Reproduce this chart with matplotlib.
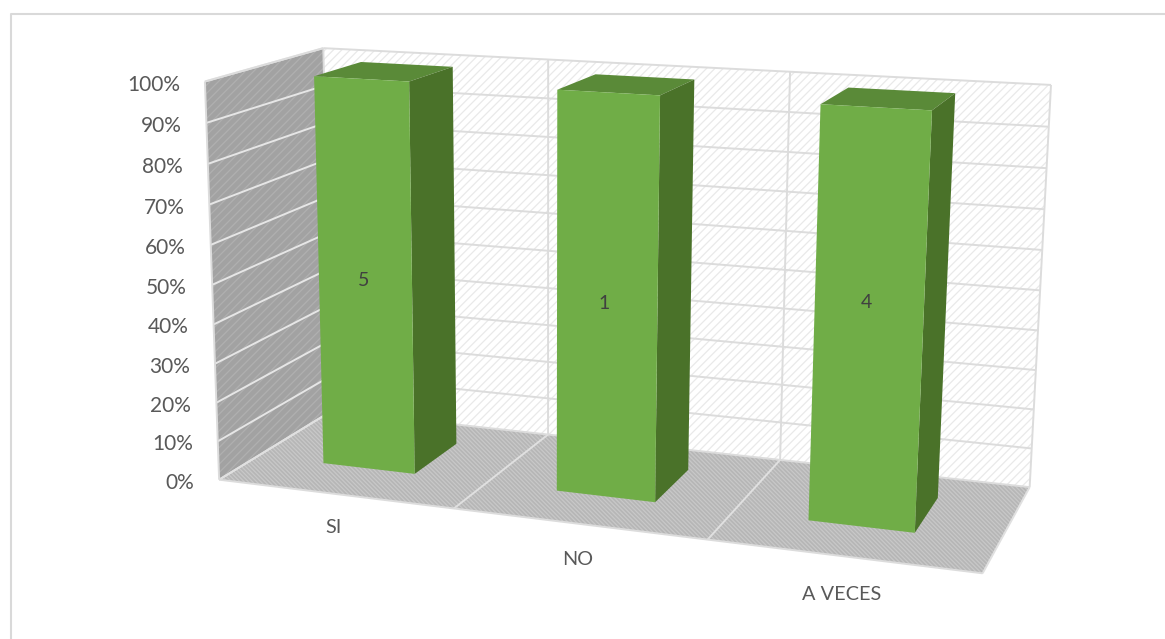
import numpy as np
import matplotlib
matplotlib.use("Agg")
import matplotlib.pyplot as plt
from matplotlib.patches import Polygon

categories = ["SI", "NO", "A VECES"]
counts = [5, 1, 4]
shares = [100, 100, 100]
ticks = [0, 10, 20, 30, 40, 50, 60, 70, 80, 90, 100]

# where the plot box sits on screen: (category, value, depth) -> pixel
CALIB = [
    ((0, 0, 0), (222, 476)), ((1, 0, 0), (983, 577)),
    ((0, 0, 1), (328, 415)), ((1, 0, 1), (1030, 484)),
    ((0, 1, 1), (327, 47)), ((1, 1, 1), (1050, 85)),
    ((0, 1, 0), (201, 83)),
    ((1/3, 0, 0), (455, 507)), ((2/3, 0, 0), (707, 540)),
    ((1/3, 1, 1), (549, 59)), ((2/3, 1, 1), (790, 72)),
]

# bar box inside the plot box
BAR_HALF = 0.2 / 3
BAR_SHIFT = -0.003
BAR_SCALE = 0.993
D0, D1 = 0.33, 0.75
COUNT_NUDGE = [3, 5, -19]
COUNT_NUDGE_X = [-1, -3, -2]


def fit_camera(calib):
    rows = []
    for (u, v, w), (x, y) in calib:
        x, y = x / 1000, y / 1000
        rows.append([u, v, w, 1, 0, 0, 0, 0, -x*u, -x*v, -x*w, -x])
        rows.append([0, 0, 0, 0, u, v, w, 1, -y*u, -y*v, -y*w, -y])
    return np.linalg.svd(np.array(rows))[2][-1].reshape(3, 4)


CAM = fit_camera(CALIB)


def proj(u, v, w):
    x, y, s = CAM @ np.array([u, v, w, 1.0])
    return x / s * 1000, y / s * 1000


def face(ax, pts, **kw):
    ax.add_patch(Polygon([proj(*p) for p in pts], closed=True, **kw))


def line(ax, a, b, color="#dcdcdc", lw=1.4):
    xa, ya = proj(*a)
    xb, yb = proj(*b)
    ax.plot([xa, xb], [ya, yb], color=color, lw=lw, solid_capstyle="butt", zorder=2)


plt.rcParams["font.family"] = ["Lato", "DejaVu Sans"]
plt.rcParams["hatch.linewidth"] = 0.9

fig = plt.figure(figsize=(11.65, 6.39), dpi=100)
ax = fig.add_axes([0, 0, 1, 1])
ax.set_xlim(0, 1165)
ax.set_ylim(639, 0)
ax.axis("off")

# chart frame, only top and left reach into the picture
ax.plot([11, 11, 1165], [639, 14, 14], color="#d9d9d9", lw=1.5)

# walls and floor
face(ax, [(0, 0, 1), (1, 0, 1), (1, 1, 1), (0, 1, 1)], fc="white", ec="#e9e9e9", hatch="////", lw=0)
face(ax, [(0, 0, 0), (0, 0, 1), (0, 1, 1), (0, 1, 0)], fc="#a2a2a2", ec="#b0b0b0", hatch="////", lw=0)
face(ax, [(0, 0, 0), (1, 0, 0), (1, 0, 1), (0, 0, 1)], fc="#b6b6b6", ec="#c8c8c8", hatch="\\\\\\\\\\\\\\\\", lw=0)

# outlines and gridlines
for t in ticks:
    v = t / 100
    line(ax, (0, v, 1), (1, v, 1))
    line(ax, (0, v, 0), (0, v, 1), color="#e6e6e6")
for i in range(len(categories) + 1):
    u = i / len(categories)
    line(ax, (u, 0, 1), (u, 1, 1))
    line(ax, (u, 0, 0), (u, 0, 1), color="#e0e0e0")
line(ax, (0, 0, 0), (0, 1, 0))
line(ax, (0, 1, 0), (0, 1, 1))
line(ax, (0, 0, 0), (1, 0, 0))

# bars
n = len(categories)
for i, (share, count) in enumerate(zip(shares, counts)):
    c = (i + 0.5) / n + BAR_SHIFT
    l, r = c - BAR_HALF, c + BAR_HALF
    h = share / 100 * BAR_SCALE
    face(ax, [(l, h, D0), (r, h, D0), (r, h, D1), (l, h, D1)], fc="#5a8a38", ec="none", zorder=3)
    face(ax, [(r, 0, D0), (r, 0, D1), (r, h, D1), (r, h, D0)], fc="#4a7229", ec="none", zorder=3)
    face(ax, [(l, 0, D0), (r, 0, D0), (r, h, D0), (l, h, D0)], fc="#70ad47", ec="none", zorder=3)
    x, y = proj(c, h / 2, D0)
    ax.text(x + COUNT_NUDGE_X[i], y + COUNT_NUDGE[i], str(count), ha="center", va="center",
            fontsize=14, color="#404040", zorder=4)

# axis labels
for t in ticks:
    x, y = proj(0, t / 100, 0)
    ax.text(x - 25, y + 3, f"{t}%", ha="right", va="center", fontsize=15, color="#595959")
for i, name in enumerate(categories):
    u = (i + 0.5) / n
    x, y = proj(u, 0, 0)
    ax.text(x - 1, y + 32 + 8 * u, name, ha="center", va="center", fontsize=14.3, color="#595959")

fig.savefig("out.png", dpi=100)
